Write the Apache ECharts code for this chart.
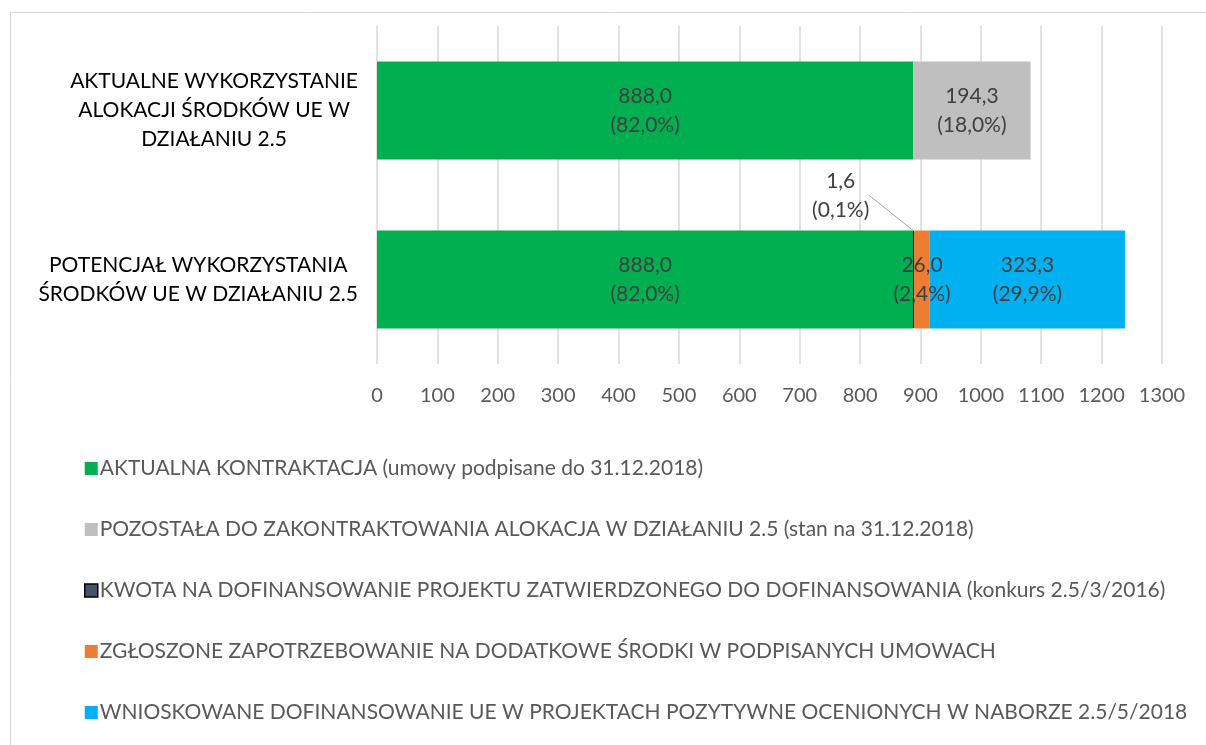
<!DOCTYPE html>
<html>
<head>
<meta charset="utf-8">
<script src="https://cdn.jsdelivr.net/npm/echarts@6/dist/echarts.min.js"></script>
<style>
  html, body { margin: 0; padding: 0; background: #fff; }
  #chart { width: 1206px; height: 745px; }
</style>
</head>
<body>
<div id="chart"></div>
<script>
// kategorie (od góry)
const categories = [
  'AKTUALNE WYKORZYSTANIE\nALOKACJI ŚRODKÓW UE W\nDZIAŁANIU 2.5',
  'POTENCJAŁ WYKORZYSTANIA\nŚRODKÓW UE W DZIAŁANIU 2.5'
]

const seriesNames = [
  'AKTUALNA KONTRAKTACJA (umowy podpisane do 31.12.2018)',
  'POZOSTAŁA DO ZAKONTRAKTOWANIA ALOKACJA W DZIAŁANIU 2.5 (stan na 31.12.2018)',
  'KWOTA NA DOFINANSOWANIE PROJEKTU ZATWIERDZONEGO DO DOFINANSOWANIA (konkurs 2.5/3/2016)',
  'ZGŁOSZONE ZAPOTRZEBOWANIE NA DODATKOWE ŚRODKI W PODPISANYCH UMOWACH',
  'WNIOSKOWANE DOFINANSOWANIE UE W PROJEKTACH POZYTYWNE OCENIONYCH W NABORZE 2.5/5/2018'
]

// wartości (mln zł) i udziały procentowe
const kontraktacja = [888.0, 888.0]
const kontraktacjaPct = [82.0, 82.0]
const pozostala = [194.3, null]
const pozostalaPct = [18.0, null]
const kwota = [null, 1.6]
const kwotaPct = [null, 0.1]
const zgloszone = [null, 26.0]
const zgloszonePct = [null, 2.4]
const wnioskowane = [null, 323.3]
const wnioskowanePct = [null, 29.9]

const xTicks = { min: 0, max: 1300, interval: 100 }

const colors = ['#00B050', '#BFBFBF', '#44546A', '#ED7D31', '#00B0F0']
const FONT = 'Lato, "Open Sans", sans-serif'

function fmt(v, d) {
  return v.toFixed(d).replace('.', ',')
}

function makeLabel(pcts) {
  return function (p) {
    if (p.value == null) return ''
    return fmt(p.value, 1) + '\n(' + fmt(pcts[p.dataIndex], 1) + '%)'
  }
}

const labelBase = {
  show: true,
  position: 'inside',
  color: '#404040',
  fontSize: 21,
  lineHeight: 29,
  fontFamily: FONT
}

function makeSeries(i, data, pcts, extra) {
  return Object.assign({
    name: seriesNames[i],
    type: 'bar',
    stack: 'total',
    barWidth: '58%',
    data: data,
    itemStyle: { color: colors[i] },
    label: Object.assign({}, labelBase, { formatter: makeLabel(pcts) }),
    emphasis: { disabled: true }
  }, extra || {})
}

const chart = echarts.init(document.getElementById('chart'))

chart.setOption({
  animation: false,
  textStyle: { fontFamily: FONT },
  graphic: [{
    type: 'rect',
    silent: true,
    shape: { x: 10.5, y: 12.5, width: 1300, height: 900 },
    style: { fill: 'none', stroke: '#d9d9d9', lineWidth: 1 }
  }],
  grid: { left: 377, right: 44, top: 26, bottom: 381 },
  xAxis: {
    type: 'value',
    min: xTicks.min,
    max: xTicks.max,
    interval: xTicks.interval,
    axisLine: { show: false },
    axisTick: { show: false },
    splitLine: { lineStyle: { color: '#d9d9d9', width: 1.5 } },
    axisLabel: {
      color: '#595959',
      fontSize: 20,
      margin: 22,
      fontFamily: FONT,
      formatter: function (v) { return String(v) }
    }
  },
  yAxis: {
    type: 'category',
    inverse: true,
    data: categories,
    axisLine: { show: false },
    axisTick: { show: false },
    axisLabel: {
      align: 'right',
      margin: 19,
      formatter: function (v) {
        return v.split('\n').map(function (l) { return '{c|' + l + '}' }).join('\n')
      },
      rich: {
        c: {
          align: 'center',
          color: '#000',
          fontSize: 21,
          lineHeight: 29,
          fontFamily: FONT
        }
      }
    }
  },
  legend: {
    orient: 'vertical',
    left: 79,
    top: 453,
    itemGap: 40,
    itemWidth: 13,
    itemHeight: 13,
    icon: 'rect',
    selectedMode: false,
    textStyle: { color: '#595959', fontSize: 21, fontFamily: FONT, padding: [0, 0, 0, -3] },
    data: seriesNames.map(function (n, i) {
      if (i === 2) return { name: n, itemStyle: { color: colors[2], borderColor: '#000', borderWidth: 1.5 } }
      return { name: n }
    })
  },
  series: [
    makeSeries(0, kontraktacja, kontraktacjaPct),
    makeSeries(1, pozostala, pozostalaPct),
    makeSeries(2, kwota, kwotaPct, {
      itemStyle: { color: colors[2], borderColor: '#000', borderWidth: 1 },
      label: Object.assign({}, labelBase, {
        position: 'top',
        distance: 6,
        formatter: makeLabel(kwotaPct)
      }),
      labelLayout: { dx: -73 },
      labelLine: { show: true, lineStyle: { color: '#a6a6a6', width: 1 } }
    }),
    makeSeries(3, zgloszone, zgloszonePct),
    makeSeries(4, wnioskowane, wnioskowanePct)
  ]
})
</script>
</body>
</html>
